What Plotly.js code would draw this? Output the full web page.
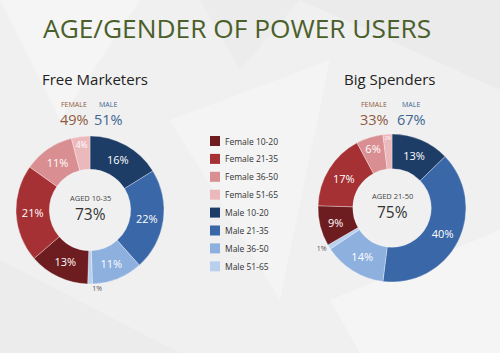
<!DOCTYPE html>
<html>
<head>
<meta charset="utf-8">
<script src="https://cdn.plot.ly/plotly-3.0.1.min.js"></script>
<style>
html,body{margin:0;padding:0;background:#f1f1f1;}
#chart{width:500px;height:353px;}
</style>
</head>
<body>
<div id="chart"></div>
<script>
// ---- data ----
var categories = ['Male 10-20','Male 21-35','Male 36-50','Male 51-65','Female 10-20','Female 21-35','Female 36-50','Female 51-65'];
var freeMarketers = [16, 22, 11, 1, 13, 21, 11, 4];
var bigSpenders   = [13, 40, 14, 1, 9, 17, 6, 2];
var legendOrder = ['Female 10-20','Female 21-35','Female 36-50','Female 51-65','Male 10-20','Male 21-35','Male 36-50','Male 51-65'];
var chartNames = ['Free Marketers', 'Big Spenders'];
var genderLabels = ['FEMALE', 'MALE'];
var freeGender = [49, 51];
var bigGender  = [33, 67];
var centerLabels = ['AGED 10-35', 'AGED 21-50'];
var centerValues = [73, 75];
var titleText = 'AGE/GENDER OF POWER USERS';

// ---- styles ----
var colorMap = {
  'Female 10-20':'#6d1c20','Female 21-35':'#a63134','Female 36-50':'#d98e91','Female 51-65':'#ebb8bc',
  'Male 10-20':'#1d3c66','Male 21-35':'#3a67a7','Male 36-50':'#8db0de','Male 51-65':'#b8cfee'
};
var colors = categories.map(function(c){return colorMap[c];});
var FONT = '"Open Sans", "Noto Sans", sans-serif';
var W = 500, H = 353;
function px(x){return x / W;}
function py(y){return 1 - y / H;}

function pieTrace(vals, dom, hole){
  return {
    type:'pie', labels:categories, values:vals, sort:false, direction:'clockwise', rotation:0,
    hole:hole, domain:dom,
    marker:{colors:colors, line:{color:'rgba(255,255,255,0.55)', width:0.6}},
    texttemplate:'%{value}%', textinfo:'text',
    textposition: vals.map(function(v){return v <= 1 ? 'outside' : 'inside';}),
    insidetextorientation:'horizontal',
    insidetextfont:{family:FONT, size:11, color:'#ffffff'},
    outsidetextfont:{family:FONT, size:7, color:'#555555'},
    showlegend:false, hoverinfo:'label+value'
  };
}

var data = [
  pieTrace(freeMarketers, {x:[px(16), px(164)], y:[py(284), py(136)]}, 0.55),
  pieTrace(bigSpenders,   {x:[px(318), px(466)], y:[py(282), py(134)]}, 0.53)
];

var annotations = [];
var shapes = [];
function ann(text, x, y, size, color, anchor){
  annotations.push({text:text, x:px(x), y:py(y), xref:'paper', yref:'paper', showarrow:false,
    xanchor:anchor||'center', yanchor:'middle', borderpad:0, font:{family:FONT, size:size, color:color}});
}
ann(titleText, 42, 28, 26.3, '#4b5f2b', 'left');
ann(chartNames[0], 41, 79, 15, '#222222', 'left');
ann(chartNames[1], 343, 79, 15, '#222222', 'left');

// gender splits
var femaleCol = '#8f5a40', maleCol = '#3d6691';
function gender(vals, fx, mx){
  ann(genderLabels[0], fx, 104, 7, femaleCol, 'center');
  ann(vals[0] + '%', fx, 119, 14.5, femaleCol, 'center');
  ann(genderLabels[1], mx, 104, 7, maleCol, 'center');
  ann(vals[1] + '%', mx, 119, 14.5, maleCol, 'center');
}
gender(freeGender, 74, 108);
gender(bigGender, 374, 411);

// center labels
ann(centerLabels[0], 90, 198, 7.5, '#444444');
ann(centerValues[0] + '%', 90, 214, 15.5, '#333333');
ann(centerLabels[1], 392, 196, 7.5, '#444444');
ann(centerValues[1] + '%', 392, 212, 15.5, '#333333');

// manual legend
legendOrder.forEach(function(name, i){
  var yc = 141 + i * 17.9;
  shapes.push({type:'rect', xref:'paper', yref:'paper', x0:px(210), x1:px(220), y0:py(yc+5), y1:py(yc-5),
    fillcolor:colorMap[name], line:{width:0}});
  ann(name, 224, yc, 8.5, '#333333', 'left');
});

// subtle background facets
var facets = [
  ['M0,0 L140,0 L60,120 Z', 'rgba(255,255,255,0.35)'],
  ['M300,0 L500,0 L500,90 Z', 'rgba(225,225,225,0.3)'],
  ['M170,120 L330,60 L280,300 Z', 'rgba(255,255,255,0.25)'],
  ['M0,260 L180,353 L0,353 Z', 'rgba(230,230,230,0.3)'],
  ['M330,300 L500,230 L500,353 L360,353 Z', 'rgba(255,255,255,0.35)'],
  ['M200,0 L300,0 L240,70 Z', 'rgba(228,228,228,0.3)']
];
var bgShapes = facets.map(function(f){
  return {type:'path', xref:'paper', yref:'paper', layer:'below',
    path: f[0].replace(/(\d+),(\d+)/g, function(m,a,b){return (a/W)+','+(1-b/H);}),
    fillcolor:f[1], line:{width:0}};
});

var layout = {
  width:W, height:H, margin:{l:0, r:0, t:0, b:0},
  paper_bgcolor:'#f0f0f0', plot_bgcolor:'rgba(0,0,0,0)',
  showlegend:false, annotations:annotations, shapes:bgShapes.concat(shapes),
  font:{family:FONT}
};
Plotly.newPlot('chart', data, layout, {displayModeBar:false, staticPlot:true});
</script>
</body>
</html>
